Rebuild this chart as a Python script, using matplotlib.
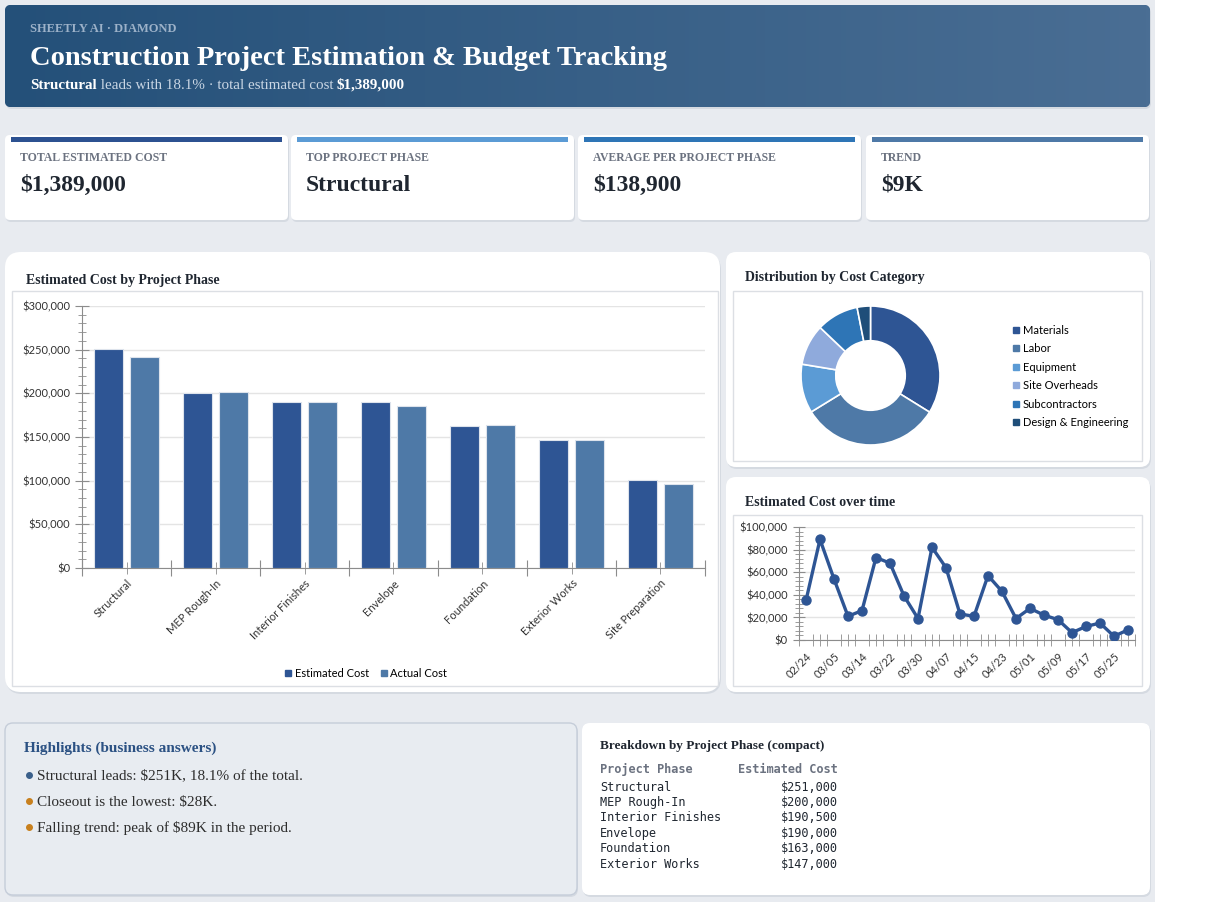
import numpy as np
import matplotlib
matplotlib.use('Agg')
import matplotlib.pyplot as plt
from matplotlib.patches import FancyBboxPatch, Rectangle
from matplotlib.lines import Line2D
from matplotlib.ticker import MultipleLocator, FuncFormatter

# ---- data ----
phases = ['Structural', 'MEP Rough-In', 'Interior Finishes', 'Envelope',
          'Foundation', 'Exterior Works', 'Site Preparation']
estimated = [251000, 200000, 190500, 190000, 163000, 147000, 100500]
actual = [241500, 202000, 190000, 185500, 164000, 146500, 96500]

categories = ['Materials', 'Labor', 'Equipment', 'Site Overheads',
              'Subcontractors', 'Design & Engineering']
cat_values = [470000, 450000, 158000, 132000, 136000, 43000]

dates = ['02/24', '02/29', '03/05', '03/09', '03/14', '03/18', '03/22', '03/26',
         '03/30', '04/03', '04/07', '04/11', '04/15', '04/19', '04/23', '04/27',
         '05/01', '05/05', '05/09', '05/13', '05/17', '05/21', '05/25', '05/29']
trend = [35000, 89000, 54000, 21000, 26000, 73000, 68000, 39000, 19000, 82000,
         64000, 23000, 21000, 57000, 43000, 19000, 28000, 22000, 18000, 6500,
         12000, 15000, 3300, 9000]

kpi_labels = ['TOTAL ESTIMATED COST', 'TOP PROJECT PHASE', 'AVERAGE PER PROJECT PHASE', 'TREND']
kpi_values = ['$1,389,000', 'Structural', '$138,900', '$9K']
kpi_colors = ['#2c5191', '#5b9bd5', '#2e75b6', '#4e79a7']

table_phases = ['Structural', 'MEP Rough-In', 'Interior Finishes', 'Envelope',
                'Foundation', 'Exterior Works']
table_costs = ['$251,000', '$200,000', '$190,500', '$190,000', '$163,000', '$147,000']

highlights = ['Structural leads: $251K, 18.1% of the total.',
              'Closeout is the lowest: $28K.',
              'Falling trend: peak of $89K in the period.']
highlight_dots = ['#3a5f8a', '#c8801e', '#c8801e']

# ---- styling ----
W, H = 1227, 922
SERIF = 'Liberation Serif'
SANS = 'Lato'
MONO = 'DejaVu Sans Mono'
C_EST = '#2e5594'
C_ACT = '#4e79a7'
pie_colors = ['#2e5594', '#4e79a7', '#5b9bd5', '#8faadc', '#2e75b6', '#1f4e79']

fig = plt.figure(figsize=(W / 100, H / 100), dpi=100)
fig.patch.set_facecolor('white')

bg = fig.add_axes([0, 0, 1, 1])
bg.set_xlim(0, W)
bg.set_ylim(H, 0)
bg.axis('off')


def box(x, y, w, h):
    return [x / W, 1 - (y + h) / H, w / W, h / H]


def panel(x, y, w, h, fc='white', ec='none', r=10, shadow=True, lw=1):
    if shadow:
        bg.add_patch(FancyBboxPatch((x + 1, y + 2), w, h, boxstyle=f'round,pad=0,rounding_size={r}',
                                    fc='#cdd3dc', ec='none', alpha=0.7, zorder=1))
    p = FancyBboxPatch((x, y), w, h, boxstyle=f'round,pad=0,rounding_size={r}',
                       fc=fc, ec=ec, lw=lw, zorder=2)
    bg.add_patch(p)
    return p


# page background
bg.add_patch(Rectangle((0, 0), 1155, 902, fc='#e8ebf0', ec='none', zorder=0))

# header with gradient
hdr = panel(5, 5, 1145, 102, fc='#2c5580', r=6)
grad = np.linspace(0, 1, 256).reshape(1, -1)
cmap = matplotlib.colors.LinearSegmentedColormap.from_list('hdr', ['#245079', '#4a6e94'])
im = bg.imshow(grad, extent=(5, 1150, 107, 5), aspect='auto', cmap=cmap, zorder=3)
im.set_clip_path(hdr)
bg.text(30, 32, 'SHEETLY AI · DIAMOND', family=SERIF, weight='bold', size=9,
        color='#9db2c9', va='baseline', zorder=5)
bg.text(30, 65, 'Construction Project Estimation & Budget Tracking', family=SERIF,
        weight='bold', size=20.5, color='white', va='baseline', zorder=5)

renderer = fig.canvas.get_renderer()


def rich_line(x, y, parts, size, zorder=5):
    # parts: list of (text, weight, color)
    for txt, wt, col in parts:
        t = bg.text(x, y, txt, family=SERIF, weight=wt, size=size, color=col,
                    va='baseline', zorder=zorder)
        x = t.get_window_extent(renderer).x1


rich_line(30, 89, [('Structural', 'bold', 'white'),
                   (' leads with 18.1% · total estimated cost ', 'normal', '#c9d6e4'),
                   ('$1,389,000', 'bold', 'white')], 10.8)

# KPI cards
card_x = [5, 291, 578, 866]
card_w = 283
for cx, lab, val, col in zip(card_x, kpi_labels, kpi_values, kpi_colors):
    panel(cx, 135, card_w, 85, r=5)
    bg.add_patch(Rectangle((cx + 6, 137), card_w - 12, 5, fc=col, ec='none', zorder=4))
    bg.text(cx + 15, 161, lab, family=SERIF, weight='bold', size=8.5, color='#6b7280',
            va='baseline', zorder=5)
    bg.text(cx + 15, 191, val, family=SERIF, weight='bold', size=17, color='#1f2630',
            va='baseline', zorder=5)

# chart panels
panel(5, 252, 715, 440, r=16)
bg.add_patch(Rectangle((12, 291), 706, 395, fc='none', ec='#dcdfe4', lw=1, zorder=4))
bg.text(26, 284, 'Estimated Cost by Project Phase', family=SERIF, weight='bold', size=10,
        color='#1f2630', va='baseline', zorder=5)

panel(726, 252, 424, 215, r=10)
bg.add_patch(Rectangle((733, 291), 409, 170, fc='none', ec='#dcdfe4', lw=1, zorder=4))
bg.text(745, 281, 'Distribution by Cost Category', family=SERIF, weight='bold', size=10,
        color='#1f2630', va='baseline', zorder=5)

panel(726, 477, 424, 215, r=10)
bg.add_patch(Rectangle((733, 515), 409, 171, fc='none', ec='#dcdfe4', lw=1, zorder=4))
bg.text(745, 506, 'Estimated Cost over time', family=SERIF, weight='bold', size=10,
        color='#1f2630', va='baseline', zorder=5)

# highlights panel
panel(5, 723, 572, 172, fc='#e8ecf1', ec='#c5cdd9', r=8)
bg.text(24, 752, 'Highlights (business answers)', family=SERIF, weight='bold', size=11,
        color='#2b5183', va='baseline', zorder=5)
for i, (txt, dc) in enumerate(zip(highlights, highlight_dots)):
    yy = 775 + i * 26
    bg.plot([29], [yy], 'o', ms=4, color=dc, zorder=5)
    bg.text(37, yy + 4.5, txt, family=SERIF, size=11, color='#2d2d2d', va='baseline', zorder=5)

# table panel
panel(582, 723, 568, 172, r=8)
bg.text(600, 749, 'Breakdown by Project Phase (compact)', family=SERIF, weight='bold',
        size=9.5, color='#1f2630', va='baseline', zorder=5)
bg.text(600, 769, 'Project Phase', family=MONO, weight='bold', size=8.6, color='#6b7280',
        va='center', zorder=5)
bg.text(838, 769, 'Estimated Cost', family=MONO, weight='bold', size=8.6, color='#6b7280',
        va='center', ha='right', zorder=5)
for i, (ph, cost) in enumerate(zip(table_phases, table_costs)):
    yy = 787 + i * 15.4
    bg.text(600, yy, ph, family=MONO, size=8.6, color='#1f2630', va='center', zorder=5)
    bg.text(838, yy, cost, family=MONO, size=8.6, color='#1f2630', va='center', ha='right', zorder=5)

money = FuncFormatter(lambda v, p: f'${v:,.0f}')

# ---- bar chart ----
ax = fig.add_axes(box(82, 306, 623, 262))
x = np.arange(len(phases))
ax.bar(x - 0.2, estimated, width=0.32, color=C_EST, edgecolor='#dde3ec', lw=0.8,
       label='Estimated Cost', zorder=3)
ax.bar(x + 0.2, actual, width=0.32, color=C_ACT, edgecolor='#dde3ec', lw=0.8,
       label='Actual Cost', zorder=3)
ax.set_xlim(-0.5, len(phases) - 0.5)
ax.set_ylim(0, 300000)
ax.yaxis.set_major_locator(MultipleLocator(50000))
ax.yaxis.set_minor_locator(MultipleLocator(10000))
ax.yaxis.set_major_formatter(money)
ax.set_xticks(np.arange(-0.5, len(phases)), [''] * (len(phases) + 1))
ax.set_xticks(x, phases, minor=True)
for s in ['top', 'right']:
    ax.spines[s].set_visible(False)
for s in ['left', 'bottom']:
    ax.spines[s].set_color('#8c8c8c')
ax.tick_params(axis='y', which='major', direction='inout', length=10, color='#8c8c8c',
               labelsize=8, labelcolor='#333333')
ax.tick_params(axis='y', which='minor', direction='inout', length=6, color='#8c8c8c')
ax.tick_params(axis='x', which='major', direction='inout', length=12, color='#8c8c8c')
ax.tick_params(axis='x', which='minor', direction='inout', length=8, color='#8c8c8c',
               labelsize=8, labelcolor='#333333', pad=3)
for lab in ax.get_xticklabels(minor=True):
    lab.set_rotation(45)
    lab.set_ha('right')
    lab.set_rotation_mode('anchor')
    lab.set_family(SANS)
for lab in ax.get_yticklabels():
    lab.set_family(SANS)
ax.grid(axis='y', which='major', color='#e4e4e4', lw=1, zorder=0)
ax.set_axisbelow(True)
ax.patch.set_alpha(0)
handles = [Line2D([], [], marker='s', ls='none', color=C_EST, ms=5),
           Line2D([], [], marker='s', ls='none', color=C_ACT, ms=5)]
ax.legend(handles, ['Estimated Cost', 'Actual Cost'], loc='center',
          bbox_to_anchor=(365 / W, 1 - 673 / H), bbox_transform=fig.transFigure,
          ncol=2, frameon=False, prop={'family': SANS, 'size': 8},
          handletextpad=0.1, columnspacing=0.8, handlelength=1)

# ---- donut ----
R = 69.5
pax = fig.add_axes(box(870.5 - R, 375.5 - R, 2 * R, 2 * R))
pax.pie(cat_values, colors=pie_colors, startangle=90, counterclock=False, radius=1,
        wedgeprops=dict(width=0.5, edgecolor='white', linewidth=1.2))
pax.set_xlim(-1, 1)
pax.set_ylim(-1, 1)
phandles = [Line2D([], [], marker='s', ls='none', color=c, ms=5) for c in pie_colors]
pax.legend(phandles, categories, loc='upper left',
           bbox_to_anchor=(1005 / W, 1 - 319 / H), bbox_transform=fig.transFigure,
           frameon=False, prop={'family': SANS, 'size': 8}, handletextpad=0.1,
           handlelength=1, labelspacing=0.68, borderpad=0)

# ---- line chart ----
lax = fig.add_axes(box(799, 527, 336, 113))
xi = np.arange(len(dates))
lax.plot(xi, trend, color=C_EST, lw=2.4, marker='o', ms=6.5, zorder=3)
lax.set_xlim(-0.5, len(dates) - 0.5)
lax.set_ylim(0, 100000)
lax.yaxis.set_major_locator(MultipleLocator(20000))
lax.yaxis.set_minor_locator(MultipleLocator(4000))
lax.yaxis.set_major_formatter(money)
lax.set_xticks(xi[::2], [dates[i] for i in xi[::2]])
lax.set_xticks(np.arange(-0.5, len(dates), 0.5), minor=True)
for s in ['top', 'right']:
    lax.spines[s].set_visible(False)
for s in ['left', 'bottom']:
    lax.spines[s].set_color('#8c8c8c')
lax.tick_params(axis='y', which='major', direction='inout', length=9, color='#8c8c8c',
                labelsize=8, labelcolor='#333333')
lax.tick_params(axis='y', which='minor', direction='inout', length=6, color='#8c8c8c')
lax.tick_params(axis='x', which='major', direction='inout', length=0, labelsize=8,
                labelcolor='#333333', pad=8)
lax.tick_params(axis='x', which='minor', direction='inout', length=8, color='#8c8c8c')
for lab in lax.get_xticklabels():
    lab.set_rotation(45)
    lab.set_ha('right')
    lab.set_rotation_mode('anchor')
    lab.set_family(SANS)
for lab in lax.get_yticklabels():
    lab.set_family(SANS)
lax.grid(axis='y', which='major', color='#e4e4e4', lw=1, zorder=0)
lax.set_axisbelow(True)
lax.patch.set_alpha(0)

fig.savefig('out.png', dpi=100, facecolor=fig.get_facecolor())
